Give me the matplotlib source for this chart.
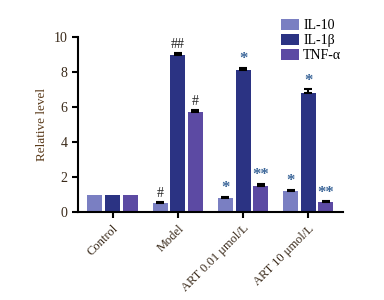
import matplotlib
matplotlib.use("Agg")
import matplotlib.pyplot as plt
import numpy as np

groups = ["Control", "Model", "ART 0.01 μmol/L", "ART 10 μmol/L"]
series = ["IL-10", "IL-1β", "TNF-α"]
il10 = [1.0, 0.5, 0.82, 1.2]
il1b = [1.0, 8.95, 8.1, 6.8]
tnfa = [1.0, 5.7, 1.5, 0.55]
il10_err = [0.0, 0.06, 0.06, 0.07]
il1b_err = [0.0, 0.15, 0.15, 0.2]
tnfa_err = [0.0, 0.15, 0.1, 0.06]
il10_sig = ["", "#", "*", "*"]
il1b_sig = ["", "##", "*", "*"]
tnfa_sig = ["", "#", "**", "**"]
yticks = [0, 2, 4, 6, 8, 10]

colors = ["#7a7fc2", "#2b3383", "#5c4aa3"]
values = [il10, il1b, tnfa]
errs = [il10_err, il1b_err, tnfa_err]
sigs = [il10_sig, il1b_sig, tnfa_sig]

plt.rcParams['font.family'] = ['Liberation Serif', 'DejaVu Serif']
fig = plt.figure(figsize=(3.84, 3.0), dpi=100)
ax = fig.add_axes([0.203, 0.293, 0.69, 0.584])

x = np.arange(len(groups))
w = 0.23
off = 0.27
for i, (vals, er, sg, c, name) in enumerate(zip(values, errs, sigs, colors, series)):
    pos = x + (i - 1) * off
    ax.bar(pos, vals, width=w, color=c, label=name, zorder=2)
    for p, v, e, s in zip(pos, vals, er, sg):
        if e > 0:
            ax.errorbar([p], [v], yerr=[[0], [e]], fmt='none', ecolor='black',
                        elinewidth=1.5, capsize=3, capthick=1.5, zorder=3)
        if s:
            if '#' in s:
                ax.text(p, v + e + 0.12, s, ha='center', va='bottom', fontsize=10, color='#222222')
            else:
                ax.text(p, v + e + 0.05, s, ha='center', va='bottom', fontsize=12,
                        color='#3a6598', fontweight='bold')

ax.set_xlim(-0.53, 3.53)
ax.set_ylim(0, 10)
ax.set_yticks(yticks)
ax.set_xticks(x)
ax.set_xticklabels(groups, rotation=45, ha='right', rotation_mode='anchor', fontsize=9, color='#3a2a1a')
ax.tick_params(axis='y', labelsize=10, labelcolor='#3a2a1a', width=1.5, length=4)
ax.tick_params(axis='x', width=1.5, length=4)
ax.set_ylabel("Relative level", fontsize=9.5, color='#5a3a1a')
for s in ['top', 'right']:
    ax.spines[s].set_visible(False)
for s in ['left', 'bottom']:
    ax.spines[s].set_linewidth(1.5)

ax.legend(loc='upper left', bbox_to_anchor=(0.745, 1.135), frameon=False, fontsize=10,
          handlelength=1.3, handleheight=0.9, handletextpad=0.3, labelspacing=0.1,
          borderaxespad=0)

fig.savefig("out.png", dpi=100)
